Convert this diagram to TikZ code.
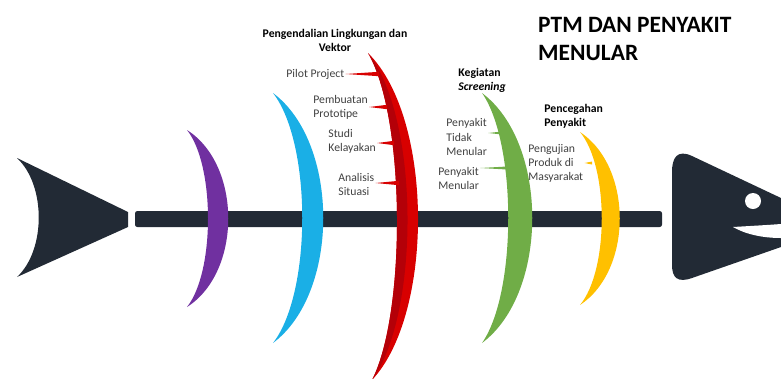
\documentclass[tikz,border=0pt]{standalone}
\usepackage{fontspec}
\setmainfont{Carlito}
\usetikzlibrary{calc}
\definecolor{fishdark}{HTML}{222A35}
\definecolor{bonepurple}{HTML}{7030A0}
\definecolor{boneblue}{HTML}{1AAFE6}
\definecolor{bonered}{HTML}{D80000}
\definecolor{bonereddark}{HTML}{B40008}
\definecolor{bonegreen}{HTML}{70AD47}
\definecolor{boneyellow}{HTML}{FFC000}
\definecolor{labelgray}{HTML}{404040}
\begin{document}
\begin{tikzpicture}[x=0.03cm, y=-0.03cm,
  lbl/.style={font=\fontsize{10}{12}\selectfont, text=labelgray, align=left, inner sep=1pt, anchor=west},
  head/.style={font=\fontsize{10}{12}\selectfont\bfseries, align=left, inner sep=1pt, anchor=west}]
\useasboundingbox (0,0) rectangle (781,378);
% tail, spine and head
\fill[fishdark] (17,158) -- (128,212) -- (128,227) -- (17,277) .. controls (46,250) and (46,185) .. (17,158) -- cycle;
\fill[fishdark, rounded corners=2] (135,211) rectangle (662,227);
\fill[fishdark] (781,198) -- (692,156) .. controls (677,149) and (672,158) .. (672,172) -- (672,265) .. controls (672,278) and (678,283) .. (692,278) -- (781,247) -- cycle;
\fill[white] (733,227) .. controls (750,226) and (768,225) .. (781,224) -- (781,238) .. controls (762,238) and (745,234) .. (733,227) -- cycle;
\fill[white] (753,201) circle (8);
% bones
\fill[bonepurple] (187,130) .. controls (242,165) and (242,272) .. (187,307) .. controls (215,272) and (215,165) .. (187,130) -- cycle;
\fill[boneblue] (273,93) .. controls (340,143) and (340,293) .. (273,343) .. controls (312,293) and (312,143) .. (273,93) -- cycle;
\fill[bonered] (368,53) .. controls (434,118) and (434,314) .. (372,380) .. controls (406,314) and (406,118) .. (368,53) -- cycle;
\fill[bonereddark] (368,53) .. controls (420,118) and (420,314) .. (372,380) .. controls (406,314) and (406,118) .. (368,53) -- cycle;
\fill[bonegreen] (482,93) .. controls (549,143) and (549,293) .. (482,343) .. controls (517,293) and (517,143) .. (482,93) -- cycle;
\fill[boneyellow] (580,132) .. controls (633,167) and (633,270) .. (580,305) .. controls (609,270) and (609,167) .. (580,132) -- cycle;
% labels
\node[head, align=center, anchor=center] (vektor) at (335,40) {Pengendalian Lingkungan dan\\Vektor};
\node[lbl] (pilot) at (285,74) {Pilot Project};
\node[lbl] (proto) at (312,107) {Pembuatan\\Prototipe};
\node[lbl] (studi) at (327,141) {Studi\\Kelayakan};
\node[lbl] (analisis) at (337,184) {Analisis\\Situasi};
\node[head] (screening) at (457,80) {Kegiatan\\\textit{Screening}};
\node[lbl] (ptm) at (445,137) {Penyakit\\Tidak\\Menular};
\node[lbl] (pm) at (437,178) {Penyakit\\Menular};
\node[head] (cegah) at (543,116) {Pencegahan\\Penyakit};
\node[lbl] (uji) at (527,163) {Pengujian\\Produk di\\Masyarakat};
\node[font=\fontsize{20}{24}\selectfont\bfseries, align=left, inner sep=0pt, anchor=north west] (judul) at (538,17) {PTM DAN PENYAKIT\\MENULAR};
% branches
\coordinate (r1) at (379,74);
\coordinate (r2) at (387,107);
\coordinate (r3) at (394,143);
\coordinate (r4) at (399,183);
\coordinate (g1) at (502,133);
\coordinate (g2) at (507,168);
\coordinate (y1) at (592,163);
\fill[bonered] (pilot.east |- r1) -- ($(r1)+(0,-2.2)$) -- ($(r1)+(0,2.2)$) -- cycle;
\fill[bonered] (proto.east |- r2) -- ($(r2)+(0,-2.2)$) -- ($(r2)+(0,2.2)$) -- cycle;
\fill[bonered] (studi.east |- r3) -- ($(r3)+(0,-2.2)$) -- ($(r3)+(0,2.2)$) -- cycle;
\fill[bonered] (analisis.east |- r4) -- ($(r4)+(0,-2.2)$) -- ($(r4)+(0,2.2)$) -- cycle;
\fill[bonegreen] (ptm.east |- g1) -- ($(g1)+(0,-1.5)$) -- ($(g1)+(0,1.5)$) -- cycle;
\fill[bonegreen] (pm.east |- g2) -- ($(g2)+(0,-1.5)$) -- ($(g2)+(0,1.5)$) -- cycle;
\fill[boneyellow] (uji.east |- y1) -- ($(y1)+(0,-1.5)$) -- ($(y1)+(0,1.5)$) -- cycle;
\end{tikzpicture}
\end{document}
